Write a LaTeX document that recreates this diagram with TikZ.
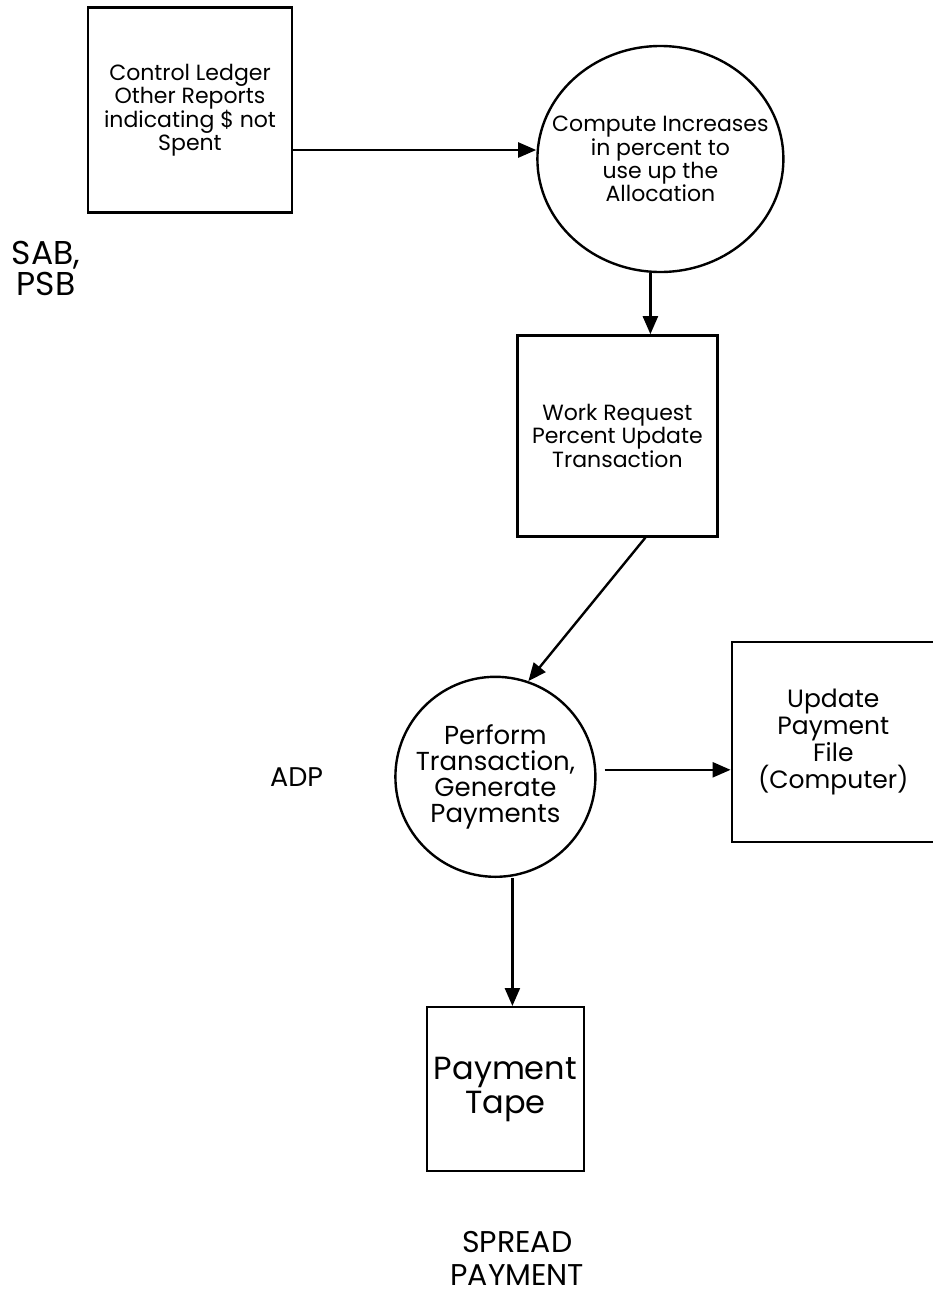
\documentclass[tikz,border=0pt]{standalone}
\usepackage{fontspec}
\setmainfont{Poppins}
\usepackage{tikz}
\usetikzlibrary{shapes.geometric, arrows.meta, positioning}

\begin{document}
\begin{tikzpicture}[
    x=1pt, y=-1pt,
    line width=2.4pt,
    box/.style={rectangle, draw, align=center, inner sep=0pt},
    bubble/.style={ellipse, draw, align=center, inner xsep=-60pt, inner ysep=-40pt},
    tag/.style={align=center, inner sep=0pt},
    flow/.style={-{Triangle[length=18pt, width=15pt]}},
]
\useasboundingbox (0,0) rectangle (932,1296);

% Nodes
\node[box, minimum width=204pt, minimum height=205pt, font=\fontsize{22}{21}\selectfont] (ledger) at (190,110) {Control Ledger\\Other Reports\\indicating \$ not\\Spent};
\node[bubble, minimum width=246pt, minimum height=226pt, font=\fontsize{22}{21}\selectfont, right=243pt of ledger, yshift=-49pt] (compute) {Compute Increases\\in percent to\\use up the\\Allocation};
\node[box, minimum width=200pt, minimum height=201pt, font=\fontsize{22}{21}\selectfont, below=61pt of compute, xshift=-43pt] (percent) {Work Request\\Percent Update\\Transaction};
\node[bubble, minimum width=200pt, minimum height=200pt, font=\fontsize{26}{26}\selectfont, below=138pt of percent, xshift=-122pt] (perform) {Perform\\Transaction,\\Generate\\Payments};
\node[box, minimum width=203pt, minimum height=200pt, font=\fontsize{25}{27}\selectfont, right=134pt of perform, yshift=35pt] (update) {Update\\Payment\\File\\(Computer)};
\node[box, minimum width=157pt, minimum height=164pt, font=\fontsize{32}{34}\selectfont, below=128pt of perform, xshift=10pt] (tape) {Payment\\Tape};

% Labels
\node[tag, font=\fontsize{33}{31}\selectfont] (sab) at (46,268) {SAB,\\PSB};
\node[tag, font=\fontsize{27}{27}\selectfont, left=70pt of perform] (adp) {ADP};
\node[tag, font=\fontsize{30}{33}\selectfont, below=58pt of tape, xshift=12pt] (spread) {SPREAD\\PAYMENT};

% Arrows
\draw[flow] ([yshift=-40pt]ledger.east) -- ([yshift=-40pt]ledger.east -| compute.west);
\draw[flow] ([xshift=-10pt]compute.south) -- ([xshift=-10pt]compute.south |- percent.north);
\draw[flow] ([xshift=28pt]percent.south) -- (perform.71);
\draw[flow] ([xshift=8pt, yshift=7pt]perform.east) -- ([yshift=7pt]perform.east -| update.west);
\draw[flow] ([xshift=17pt]perform.south) -- ([xshift=17pt]perform.south |- tape.north);

\end{tikzpicture}
\end{document}
